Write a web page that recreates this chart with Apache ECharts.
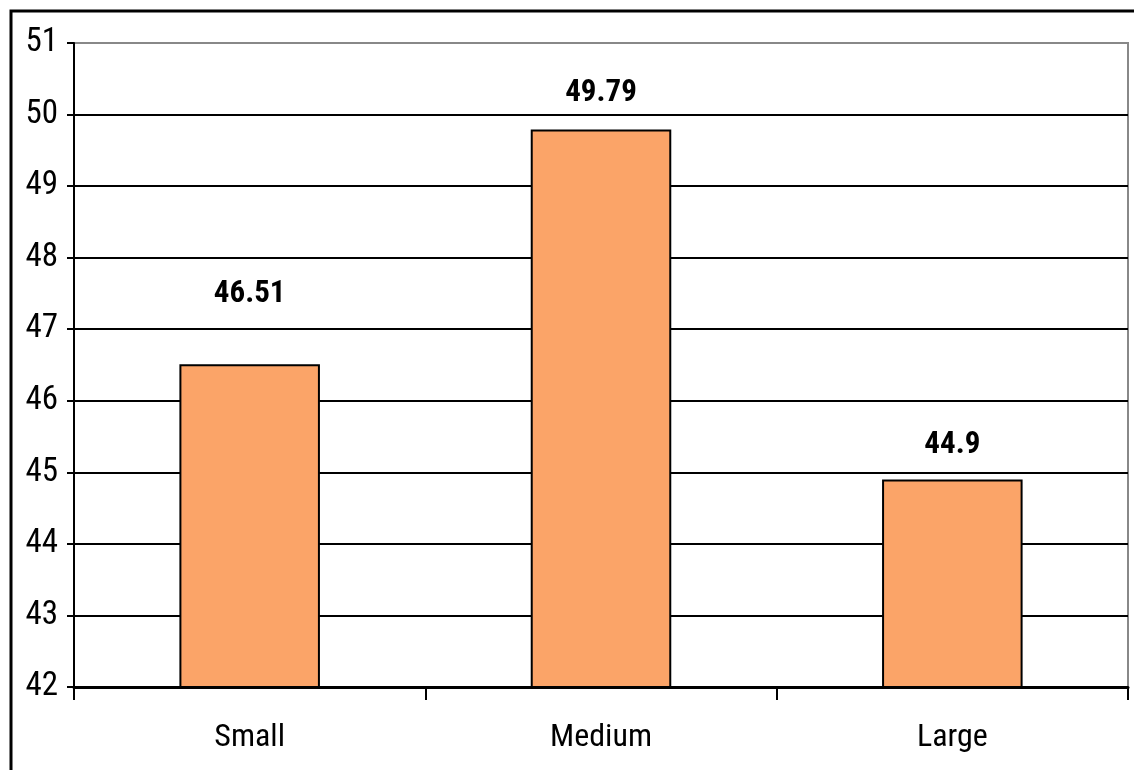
<!DOCTYPE html>
<head>
    <meta charset="utf-8">
    <title>ECharts</title>
</head>
<body style="margin:0">
    <div id="main" style="width:1134px;height:770px"></div>
    <script src="https://cdn.jsdelivr.net/npm/echarts@6/dist/echarts.min.js"></script>
    <script type="text/javascript">
        // data
        var categories = ['Small', 'Medium', 'Large'];
        var values = [46.51, 49.79, 44.9];
        var labelGaps = [55, 21, 19];   // label distance above each bar

        var font = '"Roboto Condensed", "Liberation Sans", sans-serif';

        var myChart = echarts.init(document.getElementById('main'));

        var option = {
            backgroundColor: '#fff',
            animation: false,
            graphic: [{
                type: 'rect',
                shape: { x: 11, y: 11, width: 1140, height: 780 },
                style: { fill: 'none', stroke: '#000', lineWidth: 3 },
                silent: true
            }],
            grid: {
                left: 74, top: 43, right: 6, bottom: 83,
                show: true,
                borderColor: '#888', borderWidth: 2,
                backgroundColor: 'transparent'
            },
            xAxis: {
                type: 'category',
                data: categories,
                axisLine: { lineStyle: { color: '#000', width: 3 } },
                axisTick: { show: true, length: 13, lineStyle: { color: '#000', width: 2 } },
                axisLabel: { color: '#000', fontSize: 32, fontFamily: font, margin: 35 }
            },
            yAxis: {
                type: 'value',
                min: 42, max: 51, interval: 1,
                axisLine: { show: true, lineStyle: { color: '#000', width: 2 } },
                axisTick: { show: true, length: 7, lineStyle: { color: '#000', width: 2 } },
                axisLabel: { color: '#000', fontSize: 33, fontFamily: font, margin: 16 },
                splitLine: { showMaxLine: false, lineStyle: { color: '#000', width: 2 } }
            },
            series: [{
                type: 'bar',
                barWidth: '40%',
                data: values.map(function (v, i) {
                    return { value: v, label: { distance: labelGaps[i] } };
                }),
                itemStyle: { color: '#FBA468', borderColor: '#000', borderWidth: 2 },
                label: {
                    show: true, position: 'top',
                    color: '#000', fontSize: 31, fontWeight: 'bold', fontFamily: font
                }
            }]
        };

        myChart.setOption(option);
    </script>
</body>
